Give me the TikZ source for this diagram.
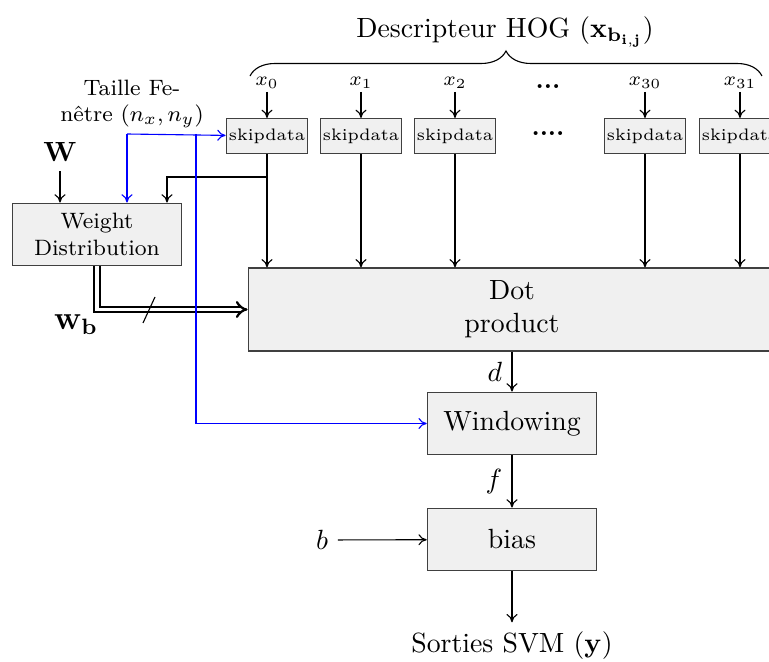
\documentclass[tikz,border=0pt]{standalone}
\usepackage{amsmath}
\usepackage{amssymb}
\usepackage{xcolor}
\usepackage{tikz}
\usetikzlibrary{shapes,arrows.meta,positioning,calc,decorations.pathreplacing}

\begin{document}
\begin{tikzpicture}[
    x=0.36pt, y=-0.36pt,
    blk/.style={rectangle, draw=black!75, fill=black!6, align=center, inner sep=1pt, minimum width=61pt, minimum height=22.6pt},
    skp/.style={blk, minimum width=28.8pt, minimum height=12.6pt, font=\fontsize{6}{7}\selectfont},
    lbl/.style={inner sep=1pt, font=\scriptsize},
    arr/.style={-{To[length=3pt,width=4pt]}},
    barr/.style={arr, draw=blue},
    warr/.style={double, thick, double distance=1.2pt, -{Implies[]}}
]
    \clip (0,0) rectangle (769,662);

    % HOG descriptor input
    \node [font=\normalsize] (hog) at (505,32) {Descripteur HOG ($\mathbf{x_{b_{i,j}}}$)};
    \draw [decorate, decoration={brace, amplitude=9pt}] (250,76) -- (762,76);

    \node [skp] (s0) at (267,136) {skipdata};
    \node [skp] (s1) at (361,136) {skipdata};
    \node [skp] (s2) at (455,136) {skipdata};
    \node [lbl, font=\small] (sd) at (548,134) {\textbf{....}};
    \node [skp] (s30) at (645,136) {skipdata};
    \node [skp] (s31) at (740,136) {skipdata};

    \node [lbl] (x0) at (267,83) {$x_0$};
    \node [lbl] (x1) at (361,83) {$x_1$};
    \node [lbl] (x2) at (455,83) {$x_2$};
    \node [lbl, font=\small] (xd) at (548,87) {\textbf{...}};
    \node [lbl] (x30) at (645,83) {$x_{30}$};
    \node [lbl] (x31) at (740,83) {$x_{31}$};

    \foreach \i in {0,1,2,30,31}
        \draw [arr] (x\i) -- (s\i);

    % main chain
    \node [blk, minimum width=190pt, minimum height=29.9pt] (dp) at (512,309.5) {Dot\\product};
    \node [blk] (win) at (512,423.5) {Windowing};
    \node [blk] (bias) at (512,539.5) {bias};
    \node (b) at (322,540) {$b$};
    \node (out) at (512,646) {Sorties SVM ($\mathbf{y}$)};

    \foreach \i in {0,1,2,30,31}
        \draw [arr] (s\i) -- (s\i |- dp.north);

    \draw [arr] (dp) -- node [left] {$d$} (win);
    \draw [arr] (win) -- node [left] {$f$} (bias);
    \draw [arr] (b) -- (bias);
    \draw [arr] (bias) -- (out);

    % weights
    \node [blk, font=\footnotesize] (wd) at (97,234.5) {Weight\\Distribution};
    \node (w) at (60,152) {$\mathbf{W}$};
    \draw [arr] (w) -- (w |- wd.north);

    \coordinate (br) at (267,177);
    \draw [arr] (br) -| ($(wd.north)+(70,0)$);

    \draw [warr] (wd.south) |- (dp.west);
    \draw (143,323) -- (155,297);
    \node [font=\large] (wb) at (76,325) {$\mathbf{w_b}$};

    % window size
    \node [font=\footnotesize, align=center] (tf) at (132,104) {Taille Fe-\\nêtre ($n_x,n_y$)};
    \coordinate (t1) at (127,134);
    \coordinate (t2) at (196,134);
    \draw [barr] (t1) -- (s0);
    \draw [barr] (t1) -- (t1 |- wd.north);
    \draw [barr] (t2) |- (win);
\end{tikzpicture}
\end{document}
